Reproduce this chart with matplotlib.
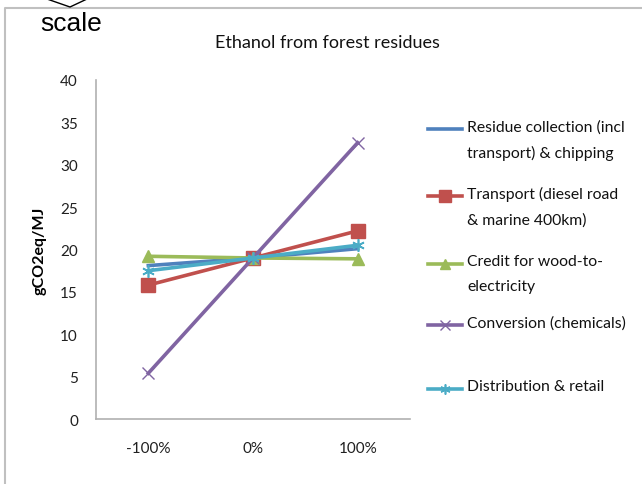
import matplotlib
matplotlib.use("Agg")
import matplotlib.pyplot as plt
from matplotlib.lines import Line2D

plt.rcParams["font.family"] = ["Lato", "DejaVu Sans"]

# Data
categories = ["-100%", "0%", "100%"]
series_names = [
    "Residue collection (incl\ntransport) & chipping",
    "Transport (diesel road\n& marine 400km)",
    "Credit for wood-to-\nelectricity",
    "Conversion (chemicals)",
    "Distribution & retail",
]
residue = [18.1, 19.0, 20.1]
transport = [15.8, 19.0, 22.2]
credit = [19.2, 19.0, 18.9]
conversion = [5.4, 19.0, 32.6]
distribution = [17.5, 19.0, 20.5]
yticks = [0, 5, 10, 15, 20, 25, 30, 35, 40]

values = [residue, transport, credit, conversion, distribution]
colors = ["#4F81BD", "#C0504D", "#9BBB59", "#8064A2", "#4BACC6"]
markers = [None, "s", "^", "x", (6, 2, 0)]
msizes = [0, 10, 9, 9, 9]
mews = [1, 1, 1, 1.0, 1.2]

W, H = 642, 485
fig = plt.figure(figsize=(W / 100, H / 100), dpi=100)
ax = fig.add_axes([96 / W, 1 - 420 / H, (410 - 96) / W, (420 - 81) / H])

xs = list(range(len(categories)))
for i, vals in enumerate(values):
    ax.plot(xs, vals, color=colors[i], lw=2.6, marker=markers[i],
            markersize=msizes[i], markeredgewidth=mews[i],
            markeredgecolor=colors[i], zorder=3 + i)

ax.set_xlim(-0.5, len(categories) - 0.5)
ax.set_ylim(0, 40)
ax.set_xticks(xs)
ax.set_xticklabels(categories, fontsize=11, color="#202020")
ax.set_yticks(yticks)
ax.set_yticklabels([str(v) for v in yticks], fontsize=11, color="#202020")
ax.tick_params(length=0, pad=13)
ax.tick_params(axis="x", pad=16)
for s in ["top", "right"]:
    ax.spines[s].set_visible(False)
for s in ["left", "bottom"]:
    ax.spines[s].set_color("#b0b0b0")
    ax.spines[s].set_linewidth(1.2)

ax.set_ylabel("gCO2eq/MJ", fontsize=11.5, fontweight="bold", labelpad=10)
fig.text(327 / W, 1 - 43 / H, "Ethanol from forest residues", fontsize=13,
         ha="center", va="center", color="#111111")

# Legend drawn by hand to keep the key on the first text line
leg_y = [130, 197, 265, 326, 390]
for i, name in enumerate(series_names):
    y = 1 - leg_y[i] / H
    fig.add_artist(Line2D([428 / W, 462 / W], [y, y], color=colors[i],
                          lw=2.6, transform=fig.transFigure))
    if markers[i] is not None:
        fig.add_artist(Line2D([445 / W], [y], color=colors[i], marker=markers[i],
                              markersize=msizes[i] * 0.8, markeredgewidth=mews[i],
                              transform=fig.transFigure))
    fig.text(467 / W, y + 10 / H, name, fontsize=11.3, ha="left", va="top",
             linespacing=2.0, color="#111111")

# Outer frame and the callout fragment from the source slide
fig.add_artist(Line2D([5 / W, 5 / W, 1.0], [0, 1 - 9 / H, 1 - 9 / H],
                      color="#c0c0c0", lw=1.5, transform=fig.transFigure))
fig.add_artist(Line2D([47 / W, 70 / W, 87 / W], [1.0, 1 - 8 / H, 1.0],
                      color="black", lw=1.0, transform=fig.transFigure))
fig.text(40 / W, 1 - 24 / H, "scale", fontsize=19, family="Liberation Sans",
         ha="left", va="center", color="black")

fig.savefig("out.png", dpi=100)
